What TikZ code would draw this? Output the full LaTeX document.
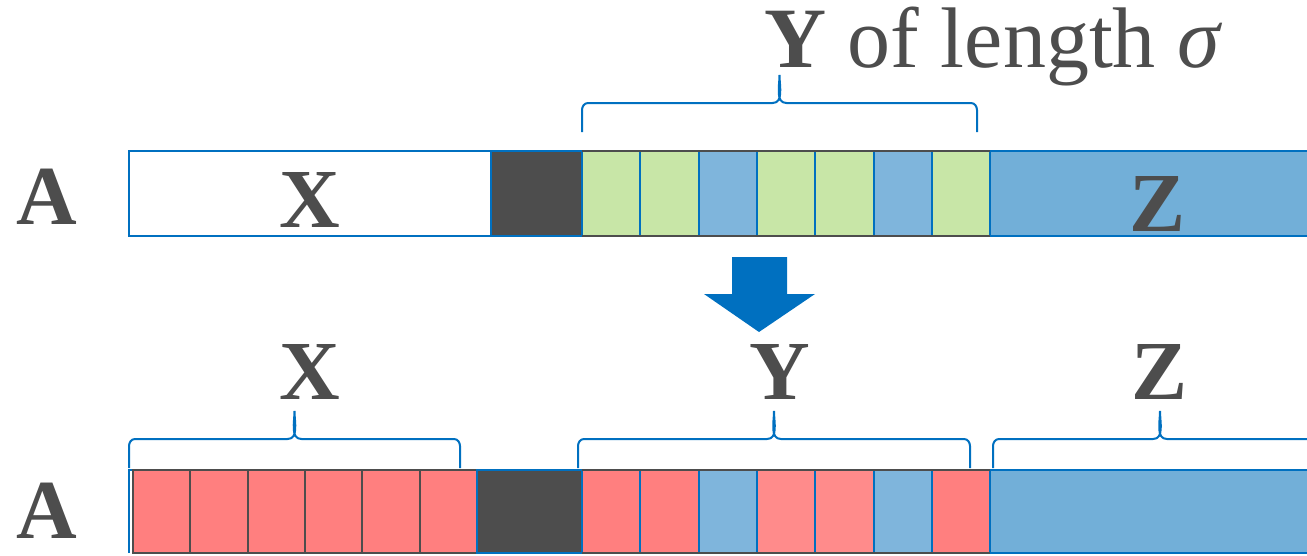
\documentclass[tikz,border=0pt]{standalone}
\usepackage{fontspec}
\setmainfont{Liberation Serif}
\usetikzlibrary{positioning}
\usetikzlibrary{calc}
\definecolor{txtgray}{HTML}{4D4D4D}
\definecolor{lineblue}{HTML}{0070C0}
\definecolor{cellgreen}{HTML}{C8E6A7}
\definecolor{cellblue}{HTML}{7FB5DC}
\definecolor{zblue}{HTML}{72AFD8}
\definecolor{cellred}{HTML}{FF7F7F}
\definecolor{cellpink}{HTML}{FF8B8B}
\definecolor{darkcell}{HTML}{4D4D4D}
\tikzset{
    bigbf/.style = {font=\fontsize{84}{84}\selectfont\bfseries, text=txtgray},
    lbl/.style = {bigbf, inner sep=0},
    cell/.style = {rectangle, draw=lineblue, line width=2pt, minimum height=85pt, minimum width=58.3pt, inner sep=0, outer sep=0},
    cellg/.style = {cell, fill=cellgreen},
    cellb/.style = {cell, fill=cellblue},
    cellr/.style = {cell, fill=cellred},
    cellp/.style = {cell, fill=cellpink},
    cellx/.style = {cell, draw=txtgray, fill=cellred, minimum width=57.3pt},
    celld/.style = {cell, fill=darkcell},
    cellz/.style = {cell, fill=zblue, minimum width=336pt},
    low/.style = {minimum height=83pt},
    bracen/.style = {draw=lineblue, line width=2pt},
    grayline/.style = {draw=txtgray, line width=2pt},
    blueline/.style = {draw=lineblue, line width=2pt},
}
% curly bracket over a span, from end #1 to end #2 (tip 57 above the ends)
\newcommand{\spanbrace}[2]{%
  \draw[bracen] (#1) -- ++(0,-22) to[out=90,in=180] ++(6,-7)
    -- ($(#1)!0.5!(#2)+(-7,-29)$) to[out=0,in=-90] ($(#1)!0.5!(#2)+(0,-57)$)
    to[out=-90,in=180] ($(#1)!0.5!(#2)+(7,-29)$)
    -- ($(#2)+(-6,-29)$) to[out=0,in=90] ($(#2)+(0,-22)$) -- (#2);}

\begin{document}
\begin{tikzpicture}[x=1pt,y=-1pt]
\useasboundingbox (0,0) rectangle (1307,555);

% first array
\node[lbl] at (47,197) (a1) {A};
\node[cell, fill=white, minimum width=362pt] at (310,193.5) (x1) {};
\node[celld, minimum width=91pt] at (536.5,193.5) (d1) {};
\node[cellg] at (611.15,193.5) (t1) {};
\node[cellg] at (669.45,193.5) (t2) {};
\node[cellb] at (727.75,193.5) (t3) {};
\node[cellg] at (786.05,193.5) (t4) {};
\node[cellg] at (844.35,193.5) (t5) {};
\node[cellb] at (902.65,193.5) (t6) {};
\node[cellg] at (960.95,193.5) (t7) {};
\node[cellz] at (1158,193.5) (z1) {};
\draw[grayline] (t1.north west) -- (t7.north east);
\draw[grayline] (t1.south west) -- (t7.south east);
\node[lbl] at (310,200) (xl1) {X};
\node[lbl] at (1158,204) (zl1) {Z};

\coordinate (yl1) at (582,132);
\coordinate (yr1) at (977,132);
\spanbrace{yl1}{yr1}
\node[anchor=base west, inner sep=0, font=\fontsize{86}{86}\selectfont, text=txtgray] at (764,67) (ylen) {\textbf{Y} of length \textit{σ}};

% step arrow
\fill[lineblue] (732,257) -- (787,257) -- (787,294) -- (815,294) -- (759,332) -- (704,294) -- (732,294) -- cycle;

% second array
\node[lbl] at (47,511) (a2) {A};
\draw[blueline] (129,553) -- (129,470) -- (1320,470);
\node[cellx, low] at (161.67,511.5) (r1) {};
\node[cellx, low] at (219,511.5) (r2) {};
\node[cellx, low] at (276.33,511.5) (r3) {};
\node[cellx, low] at (333.67,511.5) (r4) {};
\node[cellx, low] at (391,511.5) (r5) {};
\node[cellx, low] at (448.33,511.5) (r6) {};
\node[celld, low, minimum width=105pt] at (529.5,511.5) (d2) {};
\node[cellr, low] at (611.15,511.5) (s1) {};
\node[cellr, low] at (669.45,511.5) (s2) {};
\node[cellb, low] at (727.75,511.5) (s3) {};
\node[cellp, low] at (786.05,511.5) (s4) {};
\node[cellp, low] at (844.35,511.5) (s5) {};
\node[cellb, low] at (902.65,511.5) (s6) {};
\node[cellr, low] at (960.95,511.5) (s7) {};
\node[cellz, low] at (1158,511.5) (z2) {};
\draw[grayline] (s1.north west) -- (s7.north east);
\draw[grayline] (s1.south west) -- (s7.south east);

\coordinate (xl2) at (129,468);
\coordinate (xr2) at (460,468);
\coordinate (yl2) at (578,468);
\coordinate (yr2) at (970,468);
\coordinate (zl2) at (993,468);
\coordinate (zr2) at (1327,468);
\spanbrace{xl2}{xr2}
\spanbrace{yl2}{yr2}
\spanbrace{zl2}{zr2}
\node[lbl] at (310,372) (xt2) {X};
\node[lbl] at (780,372) (yt2) {Y};
\node[lbl] at (1160,372) (zt2) {Z};
\end{tikzpicture}
\end{document}
